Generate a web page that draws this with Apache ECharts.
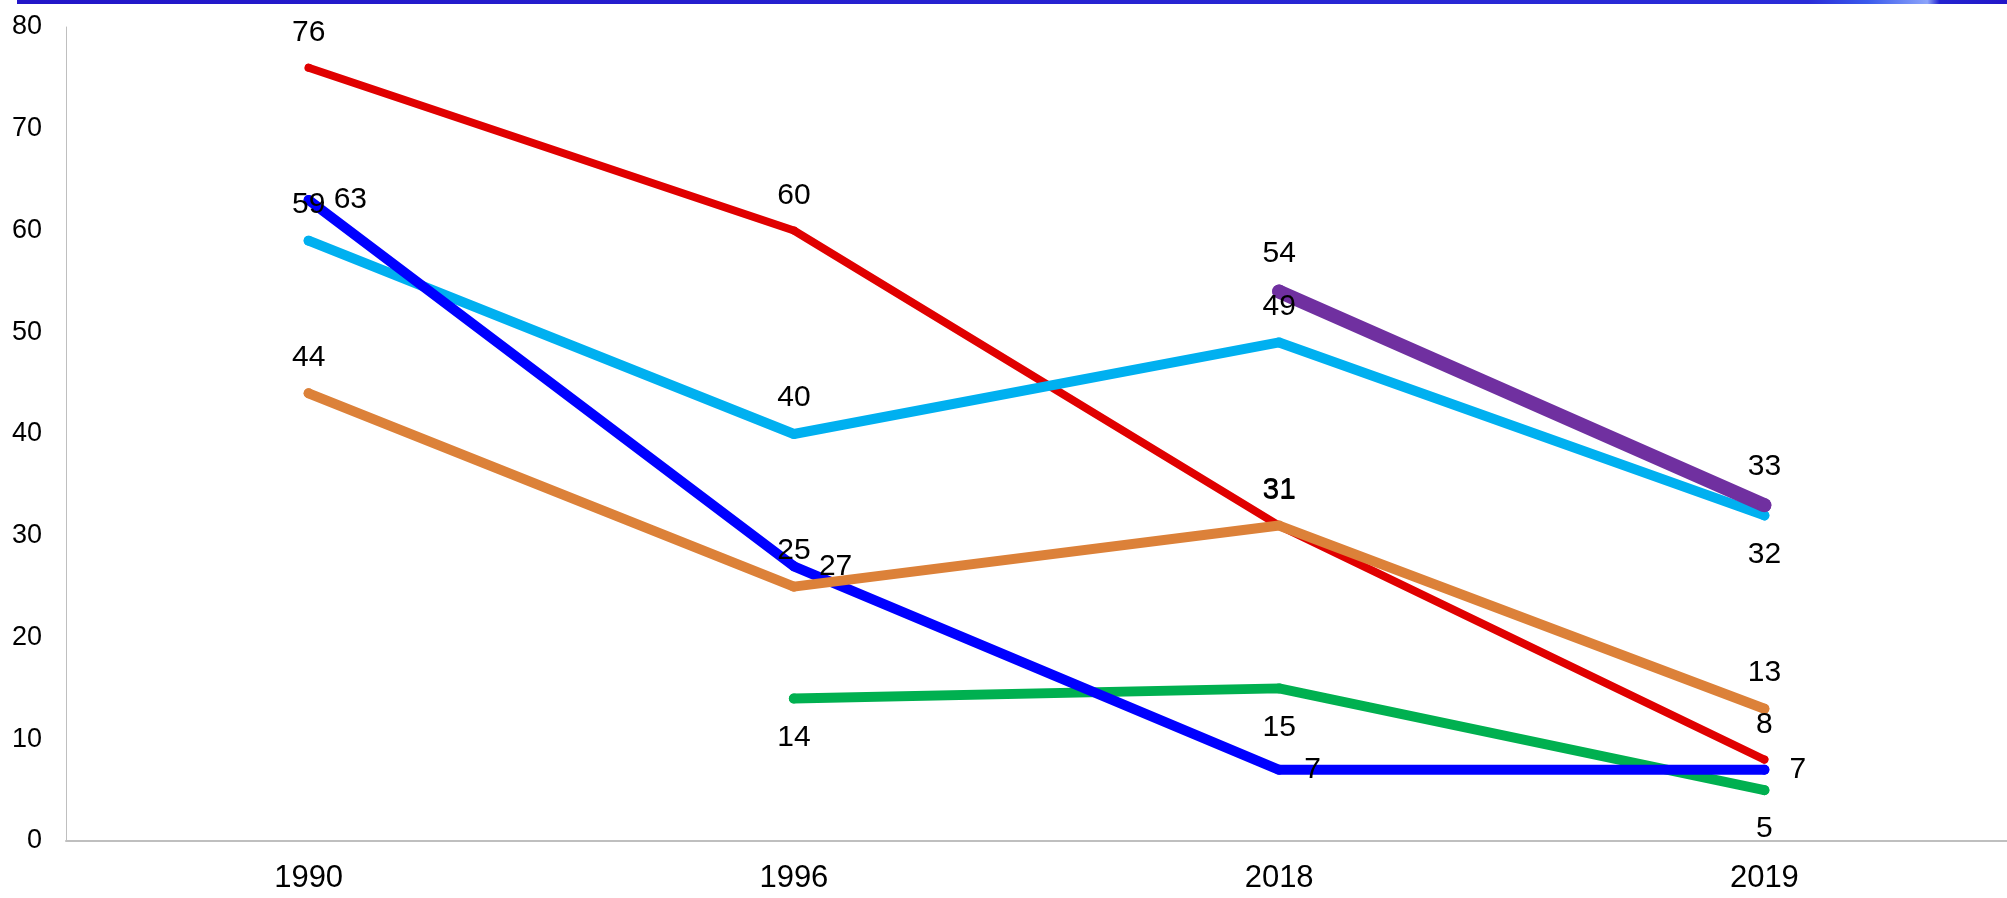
<!DOCTYPE html>
<html>
<head>
<meta charset="utf-8">
<script src="https://cdn.jsdelivr.net/npm/echarts@6/dist/echarts.min.js"></script>
<style>
  html, body { margin: 0; padding: 0; background: #fff; }
  #chart { width: 2007px; height: 898px; }
</style>
</head>
<body>
<div id="chart"></div>
<script>
// categories and values
var years = ['1990', '1996', '2018', '2019'];
var redVals = [76, 60, 31, 8];
var lightBlueVals = [59, 40, 49, 32];
var greenVals = [null, 14, 15, 5];
var blueVals = [63, 27, 7, 7];
var orangeVals = [44, 25, 31, 13];
var purpleVals = [null, null, 54, 33];

// label position per point
var lightBlueLabelPos = ['top', 'top', 'top', 'bottom'];

var chart = echarts.init(document.getElementById('chart'));

function makeSeries(name, data, color, width, labelPos) {
    return {
        name: name,
        type: 'line',
        data: data.map(function (v, i) {
            var pos = Array.isArray(labelPos) ? labelPos[i] : labelPos;
            var dist = pos === 'right' ? 20 : (pos === 'top' ? 16 : 19);
            return {
                value: v,
                label: { position: pos, distance: dist }
            };
        }),
        symbol: 'circle',
        symbolSize: width,
        showSymbol: true,
        connectNulls: false,
        itemStyle: { color: color },
        lineStyle: { color: color, width: width, cap: 'round' },
        label: {
            show: true,
            color: '#000',
            fontSize: 30,
            fontFamily: 'Liberation Sans, Arial, sans-serif'
        },
        emphasis: { disabled: true },
        animation: false
    };
}

chart.setOption({
    animation: false,
    graphic: [{
        type: 'rect',
        shape: { x: 17, y: 0, width: 1990, height: 4 },
        style: {
            fill: new echarts.graphic.LinearGradient(0, 0, 1, 0, [
                { offset: 0, color: '#2216C8' },
                { offset: 0.9, color: '#2A2CD8' },
                { offset: 0.93, color: '#3A5AEC' },
                { offset: 0.96, color: '#8CA4FA' },
                { offset: 0.966, color: '#2424D0' },
                { offset: 1, color: '#2216C8' }
            ])
        },
        z: 10
    }],
    grid: {
        left: 66,
        right: -8,
        top: 27,
        bottom: 57
    },
    xAxis: {
        type: 'category',
        data: years,
        boundaryGap: true,
        axisLine: { show: true, lineStyle: { color: '#BFBFBF', width: 2 } },
        axisTick: { show: false },
        axisLabel: {
            color: '#000',
            fontSize: 31,
            margin: 22,
            fontFamily: 'Liberation Sans, Arial, sans-serif'
        },
        splitLine: { show: false }
    },
    yAxis: {
        type: 'value',
        min: 0,
        max: 80,
        interval: 10,
        axisLine: { show: true, lineStyle: { color: '#BFBFBF', width: 1 } },
        axisTick: { show: false },
        axisLabel: {
            color: '#000',
            fontSize: 27,
            margin: 24,
            fontFamily: 'Liberation Sans, Arial, sans-serif'
        },
        splitLine: { show: false }
    },
    series: [
        makeSeries('red', redVals, '#E00000', 8, 'top'),
        makeSeries('lightblue', lightBlueVals, '#00B0F0', 10, lightBlueLabelPos),
        makeSeries('green', greenVals, '#00B050', 10, 'bottom'),
        makeSeries('blue', blueVals, '#0000FF', 10, 'right'),
        makeSeries('orange', orangeVals, '#DC8139', 10, 'top'),
        makeSeries('purple', purpleVals, '#7030A0', 14, 'top')
    ]
});
</script>
</body>
</html>
